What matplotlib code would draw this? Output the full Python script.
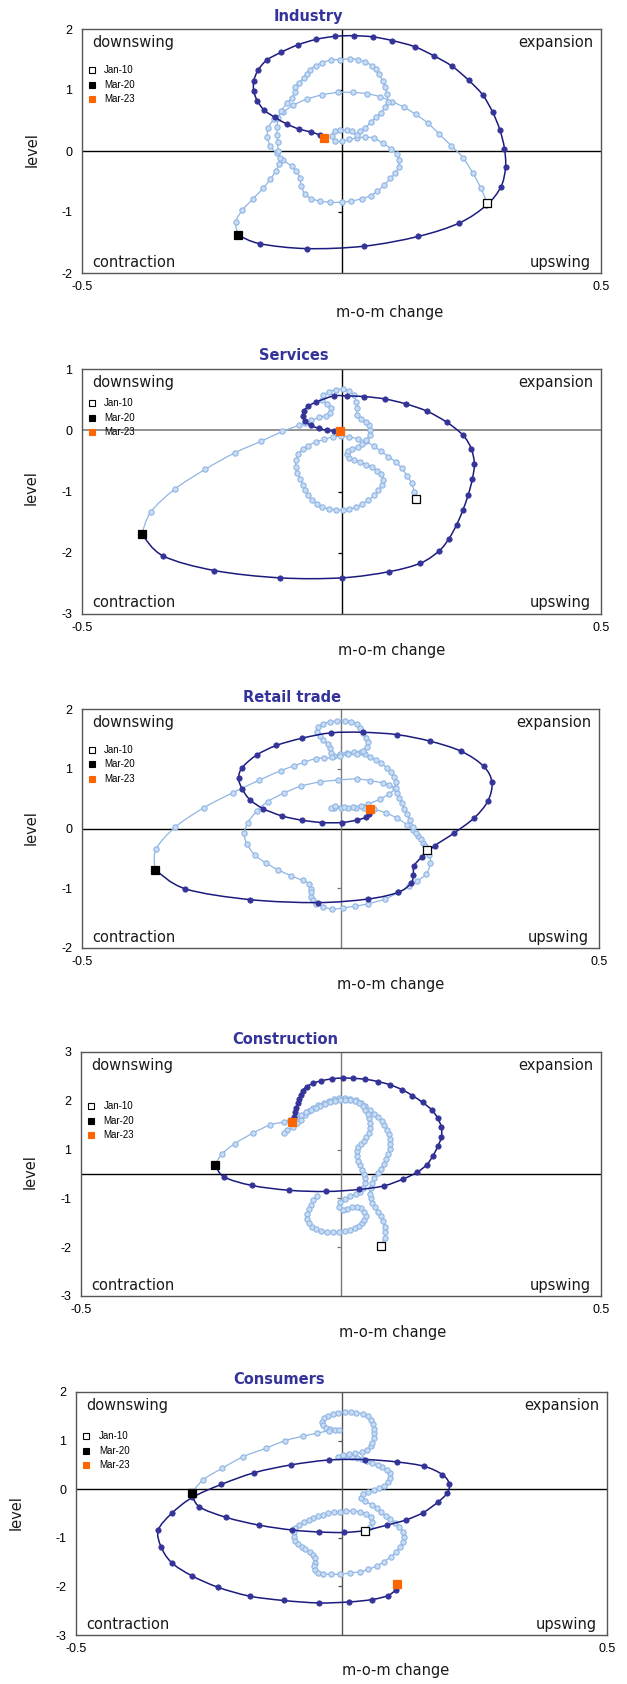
import matplotlib
matplotlib.use("Agg")
import matplotlib.pyplot as plt
import numpy as np
from matplotlib.lines import TICKLEFT
from matplotlib.patches import PathPatch
from matplotlib.path import Path
from matplotlib.ticker import FormatStrFormatter

plt.rcParams["axes.unicode_minus"] = False

panel_titles = ["Industry", "Services", "Retail trade", "Construction", "Consumers"]
quadrant_labels = ["downswing", "expansion", "contraction", "upswing"]
legend_labels = ["Jan-10", "Mar-20", "Mar-23"]
x_axis_label = "m-o-m change"
y_axis_label = "level"

# (m-o-m change, level), Jan-10 .. Mar-20
industry_before = [
    (0.281, -0.86), (0.268, -0.60), (0.253, -0.36), (0.234, -0.11), (0.211, 0.09), (0.188, 0.28),
    (0.166, 0.46), (0.143, 0.60), (0.120, 0.72), (0.097, 0.81), (0.074, 0.89), (0.049, 0.94),
    (0.023, 0.96), (-0.006, 0.96), (-0.037, 0.92), (-0.067, 0.85), (-0.093, 0.75), (-0.112, 0.64),
    (-0.130, 0.52), (-0.141, 0.38), (-0.143, 0.23), (-0.137, 0.08), (-0.125, -0.04), (-0.112, -0.15),
    (-0.096, -0.25), (-0.087, -0.33), (-0.080, -0.44), (-0.078, -0.57), (-0.070, -0.71), (-0.058, -0.78),
    (-0.042, -0.82), (-0.022, -0.84), (0.000, -0.84), (0.019, -0.82), (0.040, -0.78), (0.056, -0.73),
    (0.069, -0.66), (0.082, -0.56), (0.094, -0.45), (0.104, -0.36), (0.110, -0.26), (0.110, -0.14),
    (0.106, -0.05), (0.095, 0.04), (0.079, 0.13), (0.062, 0.21), (0.045, 0.23), (0.029, 0.21),
    (0.015, 0.19), (0.000, 0.16), (-0.013, 0.17), (-0.019, 0.25), (-0.013, 0.33), (-0.002, 0.35),
    (0.010, 0.34), (0.021, 0.32), (0.029, 0.26), (0.035, 0.33), (0.046, 0.38), (0.056, 0.47),
    (0.066, 0.55), (0.076, 0.63), (0.084, 0.72), (0.089, 0.81), (0.088, 0.93), (0.084, 1.05),
    (0.079, 1.15), (0.072, 1.27), (0.066, 1.34), (0.058, 1.40), (0.046, 1.46), (0.031, 1.50),
    (0.017, 1.51), (-0.003, 1.50), (-0.021, 1.49), (-0.037, 1.45), (-0.049, 1.40), (-0.061, 1.33),
    (-0.067, 1.26), (-0.073, 1.20), (-0.081, 1.12), (-0.089, 1.05), (-0.089, 0.96), (-0.096, 0.87),
    (-0.105, 0.78), (-0.116, 0.66), (-0.122, 0.54), (-0.124, 0.40), (-0.124, 0.27), (-0.123, 0.14),
    (-0.122, 0.00), (-0.119, -0.11), (-0.120, -0.21), (-0.127, -0.33), (-0.137, -0.46), (-0.151, -0.61),
    (-0.170, -0.78), (-0.191, -0.97), (-0.204, -1.17), (-0.199, -1.38),
]
# Mar-20 .. Mar-23
industry_after = [
    (-0.199, -1.38), (-0.157, -1.52), (-0.067, -1.60), (0.044, -1.56), (0.148, -1.40), (0.227, -1.18),
    (0.279, -0.89), (0.307, -0.59), (0.316, -0.27), (0.314, 0.04), (0.305, 0.35), (0.291, 0.64),
    (0.272, 0.92), (0.245, 1.16), (0.213, 1.39), (0.178, 1.56), (0.141, 1.71), (0.098, 1.81),
    (0.061, 1.87), (0.024, 1.89), (-0.012, 1.88), (-0.049, 1.83), (-0.084, 1.74), (-0.116, 1.62),
    (-0.144, 1.49), (-0.161, 1.32), (-0.169, 1.15), (-0.169, 0.98), (-0.162, 0.82), (-0.149, 0.67),
    (-0.128, 0.55), (-0.105, 0.44), (-0.082, 0.36), (-0.058, 0.31), (-0.042, 0.26), (-0.034, 0.21),
]

services_before = [
    (0.144, -1.12), (0.140, -1.00), (0.135, -0.86), (0.126, -0.74), (0.116, -0.62), (0.105, -0.52),
    (0.090, -0.43), (0.076, -0.34), (0.062, -0.26), (0.047, -0.18), (0.031, -0.14), (0.015, -0.11),
    (-0.001, -0.10), (-0.017, -0.11), (-0.033, -0.15), (-0.049, -0.19), (-0.064, -0.25), (-0.075, -0.31),
    (-0.083, -0.39), (-0.088, -0.49), (-0.088, -0.60), (-0.085, -0.70), (-0.080, -0.79), (-0.074, -0.90),
    (-0.070, -0.98), (-0.064, -1.06), (-0.057, -1.14), (-0.048, -1.20), (-0.037, -1.26), (-0.024, -1.28),
    (-0.011, -1.30), (0.002, -1.30), (0.015, -1.28), (0.028, -1.26), (0.040, -1.20), (0.052, -1.14),
    (0.063, -1.06), (0.071, -0.98), (0.078, -0.90), (0.080, -0.81), (0.076, -0.72), (0.068, -0.66),
    (0.058, -0.60), (0.047, -0.56), (0.036, -0.52), (0.024, -0.48), (0.015, -0.45), (0.010, -0.39),
    (0.013, -0.34), (0.021, -0.31), (0.031, -0.27), (0.040, -0.23), (0.048, -0.16), (0.054, -0.08),
    (0.055, 0.00), (0.053, 0.08), (0.047, 0.14), (0.037, 0.18), (0.030, 0.25), (0.030, 0.36),
    (0.028, 0.46), (0.024, 0.57), (0.015, 0.64), (0.002, 0.67), (-0.011, 0.66), (-0.024, 0.63),
    (-0.035, 0.57), (-0.037, 0.49), (-0.028, 0.43), (-0.021, 0.36), (-0.022, 0.28), (-0.030, 0.24),
    (-0.043, 0.21), (-0.058, 0.16), (-0.071, 0.12), (-0.082, 0.08), (-0.114, -0.02), (-0.155, -0.18),
    (-0.206, -0.37), (-0.263, -0.64), (-0.321, -0.96), (-0.367, -1.33), (-0.385, -1.69),
]
services_after = [
    (-0.385, -1.69), (-0.344, -2.05), (-0.245, -2.29), (-0.118, -2.41), (0.000, -2.41), (0.091, -2.31),
    (0.152, -2.17), (0.188, -1.97), (0.207, -1.77), (0.222, -1.54), (0.234, -1.30), (0.244, -1.06),
    (0.252, -0.80), (0.256, -0.55), (0.250, -0.30), (0.234, -0.08), (0.203, 0.13), (0.165, 0.31),
    (0.124, 0.43), (0.084, 0.51), (0.044, 0.55), (0.010, 0.56), (-0.015, 0.56), (-0.049, 0.46),
    (-0.064, 0.39), (-0.072, 0.32), (-0.075, 0.23), (-0.071, 0.15), (-0.059, 0.08), (-0.044, 0.03),
    (-0.028, 0.00), (-0.014, -0.01), (-0.003, -0.01),
]

retail_before = [
    (0.167, -0.36), (0.159, -0.24), (0.150, -0.12), (0.141, -0.03), (0.129, 0.06), (0.110, 0.17),
    (0.088, 0.26), (0.065, 0.32), (0.046, 0.34), (0.030, 0.35), (0.015, 0.35), (0.001, 0.35),
    (-0.012, 0.34), (-0.019, 0.35), (-0.011, 0.38), (0.007, 0.36), (0.025, 0.36), (0.039, 0.38),
    (0.053, 0.41), (0.076, 0.49), (0.094, 0.58), (0.105, 0.67), (0.094, 0.72), (0.082, 0.76),
    (0.058, 0.80), (0.031, 0.83), (-0.004, 0.81), (-0.039, 0.78), (-0.076, 0.71), (-0.110, 0.59),
    (-0.141, 0.45), (-0.162, 0.29), (-0.179, 0.10), (-0.186, -0.08), (-0.181, -0.26), (-0.166, -0.44),
    (-0.144, -0.58), (-0.121, -0.69), (-0.096, -0.79), (-0.073, -0.87), (-0.060, -0.93), (-0.057, -1.01),
    (-0.057, -1.07), (-0.057, -1.14), (-0.054, -1.20), (-0.047, -1.27), (-0.033, -1.31), (-0.016, -1.35),
    (0.004, -1.33), (0.028, -1.30), (0.053, -1.26), (0.086, -1.18), (0.112, -1.07), (0.132, -0.97),
    (0.148, -0.88), (0.166, -0.76), (0.174, -0.58), (0.172, -0.45), (0.164, -0.30), (0.155, -0.18),
    (0.147, -0.07), (0.141, 0.03), (0.134, 0.14), (0.128, 0.24), (0.123, 0.33), (0.118, 0.42),
    (0.114, 0.51), (0.110, 0.59), (0.108, 0.68), (0.108, 0.77), (0.103, 0.87), (0.097, 0.95),
    (0.089, 1.02), (0.079, 1.09), (0.069, 1.15), (0.058, 1.20), (0.048, 1.25), (0.039, 1.28),
    (0.026, 1.28), (0.013, 1.27), (-0.001, 1.25), (-0.012, 1.21), (-0.019, 1.27), (-0.020, 1.34),
    (-0.025, 1.42), (-0.033, 1.48), (-0.040, 1.55), (-0.046, 1.62), (-0.044, 1.70), (-0.034, 1.75),
    (-0.021, 1.78), (-0.006, 1.80), (0.008, 1.80), (0.021, 1.79), (0.031, 1.75), (0.038, 1.68),
    (0.044, 1.60), (0.049, 1.52), (0.053, 1.44), (0.051, 1.36), (0.044, 1.29), (0.031, 1.25),
    (0.015, 1.24), (-0.001, 1.21), (-0.016, 1.19), (-0.031, 1.18), (-0.048, 1.17), (-0.070, 1.11),
    (-0.089, 1.05), (-0.115, 0.97), (-0.157, 0.81), (-0.208, 0.60), (-0.264, 0.35), (-0.320, 0.02),
    (-0.357, -0.35), (-0.359, -0.69),
]
retail_after = [
    (-0.359, -0.69), (-0.300, -1.01), (-0.175, -1.19), (-0.044, -1.24), (0.053, -1.18), (0.111, -1.07),
    (0.136, -0.92), (0.141, -0.78), (0.142, -0.63), (0.157, -0.48), (0.182, -0.29), (0.219, -0.08),
    (0.259, 0.18), (0.285, 0.46), (0.293, 0.77), (0.277, 1.04), (0.234, 1.29), (0.174, 1.46),
    (0.110, 1.57), (0.043, 1.61), (-0.019, 1.60), (-0.075, 1.51), (-0.124, 1.39), (-0.162, 1.23),
    (-0.190, 1.02), (-0.197, 0.84), (-0.190, 0.66), (-0.175, 0.48), (-0.149, 0.33), (-0.113, 0.21),
    (-0.075, 0.14), (-0.036, 0.10), (0.002, 0.10), (0.031, 0.14), (0.050, 0.19), (0.056, 0.25),
    (0.057, 0.32),
]

construction_before_upper = [
    (0.076, -1.76), (0.084, -1.57), (0.085, -1.43), (0.084, -1.30), (0.081, -1.16), (0.076, -1.04),
    (0.071, -0.93), (0.065, -0.82), (0.060, -0.71), (0.057, -0.60), (0.055, -0.48), (0.057, -0.35),
    (0.059, -0.23), (0.064, -0.11), (0.071, 0.02), (0.077, 0.13), (0.083, 0.25), (0.087, 0.36),
    (0.091, 0.48), (0.094, 0.61), (0.095, 0.73), (0.094, 0.85), (0.092, 0.98), (0.089, 1.09),
    (0.083, 1.20), (0.078, 1.30), (0.071, 1.39), (0.064, 1.48), (0.055, 1.57), (0.047, 1.66),
    (0.038, 1.75), (0.028, 1.81), (0.018, 1.85), (0.008, 1.87), (-0.003, 1.86), (-0.013, 1.84),
    (-0.023, 1.80), (-0.033, 1.75), (-0.044, 1.69), (-0.053, 1.63), (-0.062, 1.55), (-0.070, 1.45),
    (-0.077, 1.34), (-0.084, 1.25), (-0.092, 1.15), (-0.103, 1.07), (-0.109, 1.02),
]
construction_before_lower = [
    (-0.046, -0.55), (-0.053, -0.64), (-0.058, -0.75), (-0.062, -0.87), (-0.065, -0.98), (-0.065, -1.10),
    (-0.062, -1.21), (-0.056, -1.30), (-0.048, -1.36), (-0.038, -1.40), (-0.027, -1.43), (-0.015, -1.43),
    (-0.004, -1.43), (0.007, -1.41), (0.017, -1.38), (0.026, -1.34), (0.034, -1.28), (0.040, -1.21),
    (0.045, -1.13), (0.048, -1.04), (0.045, -0.93), (0.039, -0.84), (0.030, -0.80), (0.021, -0.81),
    (0.012, -0.85), (0.003, -0.89), (-0.004, -0.82), (-0.001, -0.70), (0.008, -0.61), (0.018, -0.54),
    (0.028, -0.49), (0.037, -0.44), (0.043, -0.34), (0.046, -0.23), (0.046, -0.11), (0.044, 0.00),
    (0.040, 0.11), (0.037, 0.22), (0.033, 0.33), (0.030, 0.44), (0.030, 0.56), (0.033, 0.66),
    (0.038, 0.74), (0.044, 0.82), (0.049, 0.92), (0.053, 1.02), (0.055, 1.14), (0.055, 1.25),
    (0.053, 1.37), (0.051, 1.48), (0.047, 1.58), (0.042, 1.67), (0.035, 1.75), (0.027, 1.80),
    (0.018, 1.82), (0.008, 1.83), (-0.001, 1.82), (-0.011, 1.80), (-0.021, 1.76), (-0.030, 1.72),
    (-0.040, 1.67), (-0.049, 1.62), (-0.058, 1.57), (-0.067, 1.52), (-0.077, 1.46), (-0.087, 1.40),
    (-0.098, 1.34), (-0.109, 1.28), (-0.136, 1.21), (-0.170, 1.00), (-0.204, 0.75), (-0.229, 0.49),
    (-0.242, 0.23),
]
construction_after = [
    (-0.242, 0.23), (-0.225, -0.07), (-0.172, -0.28), (-0.100, -0.40), (-0.028, -0.43), (0.035, -0.38),
    (0.083, -0.29), (0.120, -0.12), (0.146, 0.04), (0.165, 0.23), (0.177, 0.45), (0.186, 0.68),
    (0.193, 0.90), (0.193, 1.15), (0.186, 1.37), (0.175, 1.57), (0.157, 1.76), (0.137, 1.93),
    (0.118, 2.07), (0.095, 2.19), (0.072, 2.27), (0.047, 2.33), (0.024, 2.35), (0.003, 2.36),
    (-0.017, 2.34), (-0.039, 2.29), (-0.053, 2.23), (-0.066, 2.15), (-0.074, 2.05), (-0.077, 1.95),
    (-0.080, 1.84), (-0.083, 1.74), (-0.086, 1.62), (-0.089, 1.52), (-0.091, 1.41), (-0.094, 1.27),
]

consumers_before = [
    (0.045, -0.85), (0.053, -0.77), (0.058, -0.67), (0.055, -0.58), (0.046, -0.51), (0.035, -0.47),
    (0.022, -0.45), (0.009, -0.45), (-0.003, -0.46), (-0.014, -0.47), (-0.025, -0.50), (-0.035, -0.53),
    (-0.044, -0.56), (-0.053, -0.59), (-0.062, -0.63), (-0.071, -0.68), (-0.080, -0.74), (-0.087, -0.80),
    (-0.090, -0.89), (-0.090, -0.98), (-0.087, -1.06), (-0.082, -1.13), (-0.075, -1.19), (-0.068, -1.24),
    (-0.060, -1.30), (-0.053, -1.35), (-0.050, -1.42), (-0.050, -1.51), (-0.051, -1.59), (-0.050, -1.67),
    (-0.044, -1.72), (-0.035, -1.74), (-0.019, -1.75), (-0.002, -1.75), (0.016, -1.72), (0.035, -1.70),
    (0.050, -1.65), (0.066, -1.58), (0.080, -1.49), (0.093, -1.39), (0.103, -1.29), (0.110, -1.19),
    (0.116, -1.09), (0.117, -0.98), (0.115, -0.88), (0.109, -0.78), (0.101, -0.69), (0.092, -0.62),
    (0.083, -0.55), (0.075, -0.47), (0.067, -0.39), (0.057, -0.32), (0.045, -0.25), (0.036, -0.19),
    (0.041, -0.10), (0.050, -0.05), (0.061, -0.01), (0.070, 0.02), (0.080, 0.07), (0.088, 0.14),
    (0.092, 0.24), (0.091, 0.33), (0.085, 0.40), (0.077, 0.45), (0.068, 0.50), (0.058, 0.53),
    (0.048, 0.57), (0.039, 0.62), (0.030, 0.65), (0.020, 0.67), (0.011, 0.68), (0.002, 0.68),
    (-0.006, 0.67), (0.003, 0.71), (0.014, 0.72), (0.026, 0.74), (0.039, 0.76), (0.048, 0.81),
    (0.055, 0.88), (0.058, 0.96), (0.061, 1.05), (0.062, 1.15), (0.062, 1.24), (0.060, 1.34),
    (0.056, 1.43), (0.050, 1.50), (0.040, 1.55), (0.028, 1.57), (0.017, 1.59), (0.006, 1.59),
    (-0.006, 1.57), (-0.016, 1.55), (-0.026, 1.51), (-0.033, 1.46), (-0.036, 1.39), (-0.035, 1.32),
    (-0.030, 1.26), (-0.022, 1.23), (-0.013, 1.22), (-0.004, 1.22), (-0.024, 1.20), (-0.047, 1.15),
    (-0.073, 1.09), (-0.106, 1.00), (-0.143, 0.84), (-0.185, 0.67), (-0.225, 0.43), (-0.261, 0.19),
    (-0.282, -0.08),
]
consumers_after = [
    (-0.282, -0.08), (-0.268, -0.36), (-0.217, -0.58), (-0.155, -0.74), (-0.093, -0.84), (-0.042, -0.88),
    (0.004, -0.89), (0.044, -0.85), (0.085, -0.74), (0.122, -0.63), (0.154, -0.48), (0.181, -0.27),
    (0.199, -0.08), (0.203, 0.11), (0.190, 0.30), (0.156, 0.47), (0.105, 0.56), (0.045, 0.61),
    (-0.024, 0.60), (-0.095, 0.50), (-0.164, 0.34), (-0.226, 0.10), (-0.281, -0.17), (-0.320, -0.50),
    (-0.345, -0.84), (-0.340, -1.18), (-0.320, -1.51), (-0.282, -1.78), (-0.232, -2.02), (-0.173, -2.20),
    (-0.109, -2.29), (-0.043, -2.34), (0.014, -2.32), (0.058, -2.27), (0.087, -2.19), (0.102, -2.07),
    (0.105, -1.95),
]

x_limits = (-0.5, 0.5)
y_limits = [(-2, 2), (-3, 1), (-2, 2), (-3, 3), (-3, 2)]
y_ticks = [
    [-2, -1, 0, 1, 2],
    [-3, -2, -1, 0, 1],
    [-2, -1, 0, 1, 2],
    [-3, -1.8, -0.6, 0.6, 1.8, 3],   # major unit 1.2, shown rounded
    [-3, -2, -1, 0, 1, 2],
]

W, H = 627, 1684
NAVY = "#333399"
NAVY_LINE = "#1b1b7e"
LIGHT_LINE = "#8fb5e3"
LIGHT_FACE = "#c8ddf5"
ORANGE = "#ff6600"


def smooth_path(xs, ys):
    """Excel-style smoothed line through the points (cubic Bezier pieces)."""
    pts = np.column_stack([xs, ys])
    n = len(pts)
    verts = [pts[0]]
    codes = [Path.MOVETO]
    for i in range(n - 1):
        p0, p1 = pts[max(i - 1, 0)], pts[i]
        p2, p3 = pts[i + 1], pts[min(i + 2, n - 1)]
        verts += [p1 + (p2 - p0) / 6, p2 - (p3 - p1) / 6, p2]
        codes += [Path.CURVE4] * 3
    return Path(verts, codes)


def draw_panel(ax, before_strands, after, ylim, yticks, hcol, vcol, legend_top):
    axx, ayy = zip(*after)
    ax.set_xlim(*x_limits)
    ax.set_ylim(*ylim)

    ax.axhline(0, color=hcol, lw=1.2 if hcol != "black" else 1.0, zorder=1)
    ax.axvline(0, color=vcol, lw=1.0, zorder=1)
    inner = [t for t in yticks if t != 0 and ylim[0] < t < ylim[1]]
    ax.plot([0] * len(inner), inner, ls="none", marker=TICKLEFT, ms=3, mew=0.9,
            color=vcol, zorder=1)

    for strand in before_strands:
        bx, by = zip(*strand)
        ax.add_patch(PathPatch(smooth_path(bx, by), fill=False, ec=LIGHT_LINE, lw=0.9, zorder=2))
        ax.plot(bx, by, ls="none", marker="o", ms=3.8, mfc=LIGHT_FACE, mec=LIGHT_LINE,
                mew=0.8, zorder=3)
    ax.add_patch(PathPatch(smooth_path(axx, ayy), fill=False, ec=NAVY_LINE, lw=1.1, zorder=4))
    ax.plot(axx, ayy, ls="none", marker="o", ms=3.8, mfc=NAVY, mec=NAVY, mew=0.6, zorder=5)

    # highlighted months
    start = before_strands[0][0]
    ax.plot(start[0], start[1], marker="s", ms=5.3, mfc="white", mec="black", mew=0.9, zorder=6)
    ax.plot(axx[0], ayy[0], marker="s", ms=5.3, mfc="black", mec="black", mew=0.9, zorder=6)
    ax.plot(axx[-1], ayy[-1], marker="s", ms=5.3, mfc=ORANGE, mec=ORANGE, mew=0.9, zorder=6)

    # hand-drawn legend like the source
    styles = [("white", "black"), ("black", "black"), (ORANGE, ORANGE)]
    for k, (label, (fc, ec)) in enumerate(zip(legend_labels, styles)):
        yy = legend_top - 0.06 * k
        ax.plot([0.019], [yy], marker="s", ms=4.3, mfc=fc, mec=ec, mew=0.8,
                transform=ax.transAxes, zorder=7)
        ax.text(0.043, yy, label, transform=ax.transAxes, fontsize=7,
                family="Liberation Sans", va="center", ha="left", zorder=7)

    q = dict(transform=ax.transAxes, fontsize=10.5, color="#1a1a1a", zorder=7)
    ax.text(0.02, 0.945, quadrant_labels[0], ha="left", va="center", **q)
    ax.text(0.985, 0.945, quadrant_labels[1], ha="right", va="center", **q)
    ax.text(0.02, 0.045, quadrant_labels[2], ha="left", va="center", **q)
    ax.text(0.98, 0.045, quadrant_labels[3], ha="right", va="center", **q)

    ax.set_xticks([x_limits[0], x_limits[1]])
    ax.set_yticks(yticks)
    ax.xaxis.set_major_formatter(FormatStrFormatter("%.1f"))
    ax.yaxis.set_major_formatter(FormatStrFormatter("%.0f"))
    ax.tick_params(length=0, labelsize=9)
    ax.tick_params(axis="y", pad=7)
    ax.tick_params(axis="x", pad=6)
    for lab in ax.get_xticklabels() + ax.get_yticklabels():
        lab.set_family("Liberation Sans")
    for sp in ax.spines.values():
        sp.set_color("#555555")
        sp.set_linewidth(1.0)


def main():
    fig = plt.figure(figsize=(W / 100, H / 100), dpi=100)
    # axes boxes in pixels: left, right, top, bottom
    boxes = [(82, 601, 29, 273), (82, 601, 369, 614), (82, 599, 709, 948),
             (81, 601, 1052, 1296), (76, 607, 1392, 1635)]
    title_xy = [(308, 17), (294, 355), (292, 698), (285, 1040), (279, 1379)]
    xlabel_xy = [(390, 312), (392, 651), (391, 985), (393, 1332), (396, 1671)]
    ylabel_xy = [(32, 150), (31, 488), (31, 828), (30, 1172), (16, 1513)]
    legend_tops = [0.832, 0.862, 0.828, 0.779, 0.819]
    hcols = ["black", "#808080", "black", "black", "black"]
    vcols = ["black", "black", "#7a7a7a", "#7a7a7a", "#555555"]
    series = [([industry_before], industry_after),
              ([services_before], services_after),
              ([retail_before], retail_after),
              ([construction_before_upper, construction_before_lower], construction_after),
              ([consumers_before], consumers_after)]

    for i, (before, after) in enumerate(series):
        l, r, t, b = boxes[i]
        ax = fig.add_axes([l / W, 1 - b / H, (r - l) / W, (b - t) / H])
        draw_panel(ax, before, after, y_limits[i], y_ticks[i], hcols[i], vcols[i],
                   legend_tops[i])
        tx, ty = title_xy[i]
        fig.text(tx / W, 1 - ty / H, panel_titles[i], ha="center", va="center",
                 fontsize=10.5, fontweight="bold", color=NAVY)
        lx, ly = xlabel_xy[i]
        fig.text(lx / W, 1 - ly / H, x_axis_label, ha="center", va="center",
                 fontsize=10.5, color="#1a1a1a")
        yx, yy = ylabel_xy[i]
        fig.text(yx / W, 1 - yy / H, y_axis_label, ha="center", va="center",
                 rotation=90, fontsize=10.5, color="#1a1a1a")

    fig.savefig("out.png", dpi=100)


if __name__ == "__main__":
    main()
